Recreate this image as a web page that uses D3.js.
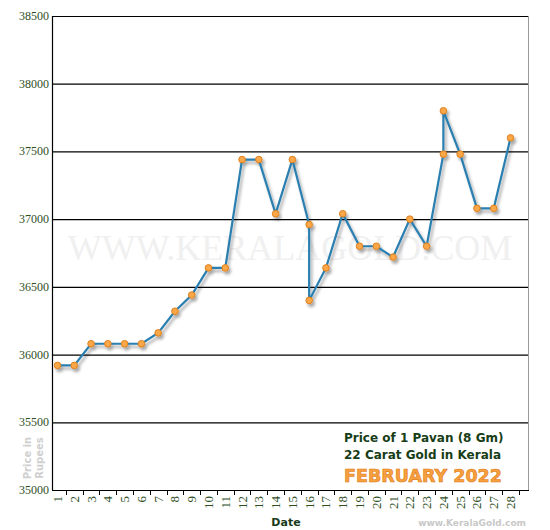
<!DOCTYPE html>
<html><head><meta charset="utf-8">
<script src="https://cdn.jsdelivr.net/npm/d3@7"></script>
<style>body{margin:0;background:#fff}.sf{font-family:'Liberation Serif','DejaVu Serif',serif}</style></head>
<body><svg id="c" width="550" height="530"></svg>
<script>
const days = [1,2,3,4,5,6,7,8,9,10,11,12,13,14,15,16,16,17,18,19,20,21,22,23,24,24,25,26,27,28];
const prices = [35920,35920,36080,36080,36080,36080,36160,36320,36440,36640,36640,37440,37440,37040,37440,36960,36400,36640,37040,36800,36800,36720,37000,36800,37480,37800,37480,37080,37080,37600];
const dayLabels = d3.range(1,29);
const yTicks = [35000,35500,36000,36500,37000,37500,38000,38500];

const svg = d3.select("#c");
const L=52,R=528,T=16,B=490;
const y = d3.scaleLinear().domain([35000,38500]).range([B,T]);
const x = d3.scaleLinear().domain([1,28]).range([57.5,510.5]);

const defs = svg.append("defs");
const f = defs.append("filter").attr("id","sh").attr("x","-10%").attr("y","-10%").attr("width","120%").attr("height","120%");
f.append("feDropShadow").attr("dx",2).attr("dy",3).attr("stdDeviation",1.5).attr("flood-color","#000").attr("flood-opacity",0.35);

svg.append("text").attr("x",290).attr("y",260).attr("text-anchor","middle").attr("class","sf")
 .attr("font-size",36).attr("fill","#f0f0f0").text("WWW.KERALAGOLD.COM");

svg.selectAll(".g").data(yTicks.slice(1)).enter().append("line")
 .attr("x1",L).attr("x2",R).attr("y1",d=>y(d)+0.5).attr("y2",d=>y(d)+0.5)
 .attr("stroke","#000").attr("stroke-width",1.2);
svg.append("line").attr("x1",R+0.5).attr("x2",R+0.5).attr("y1",T).attr("y2",B).attr("stroke","#999");
svg.append("line").attr("x1",L+0.5).attr("x2",L+0.5).attr("y1",T).attr("y2",B).attr("stroke","#000").attr("stroke-width",1.2);
svg.append("line").attr("x1",L).attr("x2",R+1).attr("y1",B+0.5).attr("y2",B+0.5).attr("stroke","#000").attr("stroke-width",1.2);

svg.selectAll(".yl").data(yTicks).enter().append("text").attr("class","sf")
 .attr("x",L-3).attr("y",d=>y(d)+4).attr("text-anchor","end")
 .attr("font-size",12).attr("fill","#2f4f1f").text(d=>d);

svg.selectAll(".xt").data(dayLabels).enter().append("line")
 .attr("x1",d=>Math.round(x(d)+8.4)+0.5).attr("x2",d=>Math.round(x(d)+8.4)+0.5)
 .attr("y1",B).attr("y2",B+5).attr("stroke","#000");
svg.selectAll(".xl").data(dayLabels).enter().append("text").attr("class","sf")
 .attr("transform",d=>`translate(${x(d)+4.5},${B+6}) rotate(-90)`)
 .attr("text-anchor","end").attr("font-size",13)
 .attr("fill","#2f4f1f").text(d=>d);

svg.append("text").attr("x",286).attr("y",526).attr("text-anchor","middle")
 .attr("font-family","Verdana, DejaVu Sans, sans-serif").attr("font-weight","bold").attr("font-size",11)
 .attr("fill","#1a3a1a").text("Date");
svg.append("text").attr("x",526).attr("y",526).attr("text-anchor","end")
 .attr("font-family","DejaVu Sans, sans-serif").attr("font-weight","bold").attr("font-size",9)
 .attr("fill","#c8c8c8").text("www.KeralaGold.com");

const yt = svg.append("text").attr("transform","translate(31,458) rotate(-90)").attr("text-anchor","middle")
 .attr("font-family","DejaVu Sans, sans-serif").attr("font-weight","bold").attr("font-size",10).attr("fill","#cfcfcf");
yt.append("tspan").attr("x",0).attr("dy",0).text("Price in");
yt.append("tspan").attr("x",0).attr("dy",12).text("Rupees");

svg.append("text").attr("x",344).attr("y",442).attr("font-family","DejaVu Sans, Verdana, sans-serif")
 .attr("font-weight","bold").attr("font-size",12).attr("fill","#173d17").text("Price of 1 Pavan (8 Gm)");
svg.append("text").attr("x",344).attr("y",459).attr("font-family","DejaVu Sans, Verdana, sans-serif")
 .attr("font-weight","bold").attr("font-size",12).attr("fill","#173d17").text("22 Carat Gold in Kerala");
svg.append("text").attr("x",344).attr("y",482).attr("font-family","DejaVu Sans, Verdana, sans-serif")
 .attr("font-weight","bold").attr("font-size",17.5).attr("fill","#f7a040").attr("stroke","#e07a10").attr("stroke-width",0.6)
 .text("FEBRUARY 2022");

const pts = days.map((d,i)=>[x(d),y(prices[i])]);
const g = svg.append("g").attr("filter","url(#sh)");
g.append("path").attr("d",d3.line()(pts)).attr("fill","none").attr("stroke","#2a7fb0").attr("stroke-width",2.2);
g.selectAll("circle").data(pts).enter().append("circle").attr("cx",d=>d[0]).attr("cy",d=>d[1]).attr("r",3.3)
 .attr("fill","#f9a74a").attr("stroke","#e0801c").attr("stroke-width",1);
</script></body></html>
